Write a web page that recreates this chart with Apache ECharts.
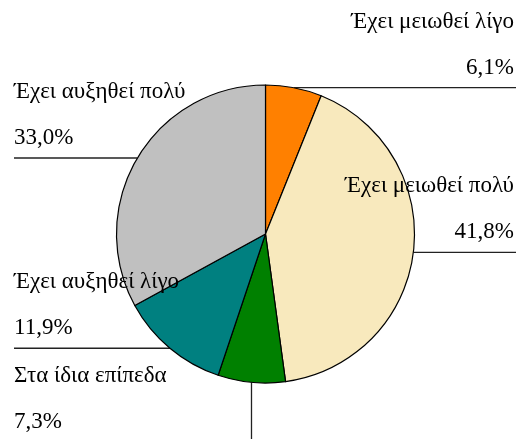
<!DOCTYPE html>
<html>
<head>
<meta charset="utf-8">
<script src="https://cdn.jsdelivr.net/npm/echarts@6/dist/echarts.min.js"></script>
<style>
  html, body { margin: 0; padding: 0; background: #fff; }
  #chart { width: 519px; height: 439px; }
</style>
</head>
<body>
<div id="chart"></div>
<script>
// Answer categories, in clockwise order from twelve o'clock
const categories = [
  'Έχει μειωθεί λίγο',
  'Έχει μειωθεί πολύ',
  'Στα ίδια επίπεδα',
  'Έχει αυξηθεί λίγο',
  'Έχει αυξηθεί πολύ'
];
// Share of respondents, %
const shares = [6.1, 41.8, 7.3, 11.9, 33.0];
const sliceColors = ['#FF8000', '#F8E9BD', '#008000', '#008080', '#C0C0C0'];

const chart = echarts.init(document.getElementById('chart'), null, { renderer: 'canvas' });

const W = 519, H = 439;
const LEFT_X = 14, RIGHT_X = 516;
const FONT = 'Liberation Serif';

function fmtPct(v) {
  return v.toFixed(1).replace('.', ',') + '%';
}

chart.setOption({
  animation: false,
  backgroundColor: '#ffffff',
  series: [{
    type: 'pie',
    center: [265.5, 234],
    radius: 149,
    startAngle: 90,
    clockwise: true,
    avoidLabelOverlap: false,
    data: categories.map((name, i) => ({
      name: name,
      value: shares[i],
      itemStyle: { color: sliceColors[i] }
    })),
    itemStyle: { borderColor: '#000', borderWidth: 1.2 },
    label: {
      show: true,
      position: 'outside',
      formatter: p => p.name + '\n' + fmtPct(p.value),
      fontFamily: FONT,
      fontSize: 23,
      lineHeight: 46,
      color: '#000'
    },
    labelLine: {
      show: true,
      length: 10,
      length2: 10,
      lineStyle: { color: '#222', width: 1.3 }
    },
    labelLayout: function (p) {
      const i = p.dataIndex;
      const pts = p.labelLinePoints || [[0, 0]];
      const ex = pts[0][0], ey = pts[0][1];
      if (i === 2) {
        // bottom slice: vertical leader, label block at the lower left
        return {
          x: LEFT_X, y: ey + 63,
          align: 'left', verticalAlign: 'bottom',
          labelLinePoints: [[ex, ey], [ex, H + 2]]
        };
      }
      const right = ex > 265.5;
      return {
        x: right ? 514 : LEFT_X,
        y: ey + 3,
        align: right ? 'right' : 'left',
        verticalAlign: 'bottom',
        labelLinePoints: [[ex, ey], [right ? RIGHT_X : LEFT_X, ey]]
      };
    }
  }]
});
</script>
</body>
</html>
